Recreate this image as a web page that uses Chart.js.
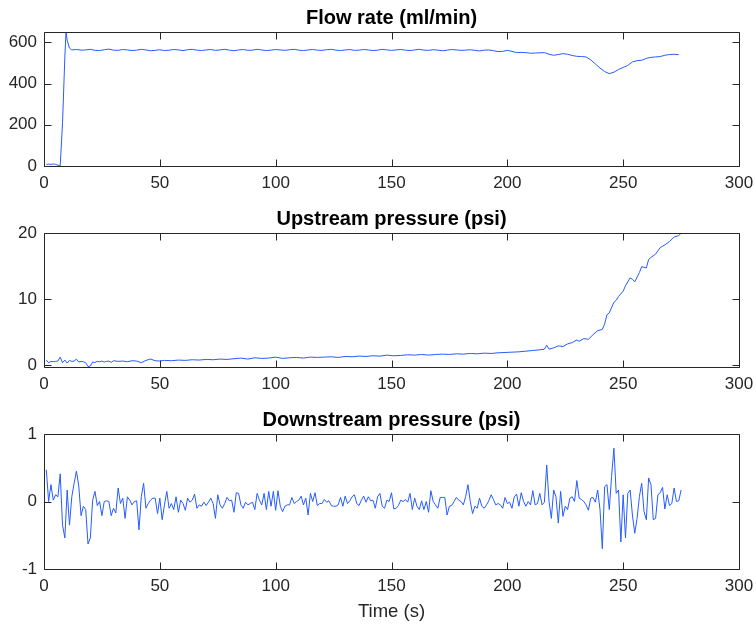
<!DOCTYPE html>
<html>
<head>
<meta charset="utf-8">
<script src="https://cdn.jsdelivr.net/npm/chart.js@4"></script>
<style>
html, body { margin: 0; padding: 0; background: #fff; }
#wrap { position: relative; width: 756px; height: 626px; }
canvas { position: absolute; left: 0; }
</style>
</head>
<body>
<div id="wrap">
<canvas id="chart-flow" width="756" height="201" style="top:0px"></canvas>
<canvas id="chart-up" width="756" height="201" style="top:201px"></canvas>
<canvas id="chart-down" width="756" height="224" style="top:402px"></canvas>
</div>
<script>
// ---------- data ----------
const xTicks = [0, 50, 100, 150, 200, 250, 300];
const flowTicks = [0, 200, 400, 600];
const upTicks = [0, 10, 20];
const downTicks = [-1, 0, 1];

const flowTime = [
  1, 2, 3, 4, 5, 6, 7, 8, 9,
  9.5, 10, 11, 12, 14, 16, 18, 20, 22, 24,
  26, 28, 30, 32, 34, 36, 38, 40, 42, 44,
  46, 48, 50, 52, 54, 56, 58, 60, 62, 64,
  66, 68, 70, 72, 74, 76, 78, 80, 82, 84,
  86, 88, 90, 92, 94, 96, 98, 100, 102, 104,
  106, 108, 110, 112, 114, 116, 118, 120, 122, 124,
  126, 128, 130, 132, 134, 136, 138, 140, 142, 144,
  146, 148, 150, 152, 154, 156, 158, 160, 162, 164,
  166, 168, 170, 172, 174, 176, 178, 180, 182, 184,
  186, 188, 190, 192, 194, 196, 198, 200, 202, 204,
  206, 208, 210, 212, 214, 216, 218, 220, 222, 224,
  226, 228, 230, 232, 234, 236, 238, 240, 242, 244,
  246, 248, 250, 252, 254, 256, 258, 260, 262, 264,
  266, 268, 270, 272, 274
];
const flowRate = [
  8, 9, 8, 10, 8, 4, 1, 210, 529,
  650, 610, 572, 563, 565, 562, 563, 566, 561, 560,
  564, 567, 562, 561, 565, 563, 560, 562, 566, 563,
  559, 561, 564, 560, 562, 565, 563, 560, 564, 566,
  562, 560, 563, 565, 561, 563, 566, 562, 559, 563,
  565, 561, 562, 566, 563, 560, 562, 565, 563, 561,
  564, 566, 562, 560, 563, 565, 562, 561, 564, 566,
  562, 560, 563, 565, 561, 562, 565, 563, 560, 562,
  566, 563, 561, 563, 565, 562, 560, 563, 566, 562,
  561, 564, 562, 559, 562, 565, 563, 561, 562, 564,
  561, 558, 562, 563, 559, 555, 556, 561, 556, 550,
  551, 550, 547, 548, 549, 550, 542, 537, 541, 545,
  542, 536, 532, 531, 529, 515, 495, 475, 458, 448,
  455, 468, 478, 488, 505, 511, 513, 522, 527, 529,
  531, 537, 541, 542, 540
];

const upTime = [
  1, 2, 3, 4, 5, 6, 7, 8, 9,
  10, 11, 12, 13, 14, 15, 16, 17, 18, 19,
  20, 21, 22, 23, 24, 25, 26, 27, 28, 29,
  30, 32, 34, 36, 38, 40, 42, 44, 46, 48,
  50, 52, 55, 58, 61, 64, 67, 70, 73, 76,
  79, 82, 85, 88, 91, 94, 97, 100, 103, 106,
  109, 112, 115, 118, 121, 124, 127, 130, 133, 136,
  139, 142, 145, 148, 151, 154, 157, 160, 163, 166,
  169, 172, 175, 178, 181, 184, 187, 190, 193, 196,
  199, 202, 205, 208, 211, 214, 216, 217, 218, 220,
  222, 224, 226, 228, 230, 231, 233, 235, 237, 239,
  241, 242, 243, 244, 246, 247, 248, 250, 251, 253,
  254, 255, 257, 258, 260, 261, 262, 264, 266, 268,
  270, 272, 274, 275
];
const upPressure = [
  0.75, 0.35, 0.55, 0.5, 0.55, 0.6, 1.2, 0.35, 0.75,
  0.3, 0.7, 0.55, 0.6, 0.9, 0.45, 0.55, 0.5, 0.35, -0.25,
  -0.15, 0.45, 0.4, 0.55, 0.5, 0.6, 0.45, 0.55, 0.6, 0.4,
  0.65, 0.55, 0.6, 0.5, 0.65, 0.6, 0.35, 0.7, 0.9, 0.65,
  0.6, 0.7, 0.65, 0.75, 0.7, 0.8, 0.75, 0.85, 0.8, 0.9,
  0.85, 0.95, 1.05, 0.9, 1.1, 1.0, 1.05, 1.2, 1.0, 1.1,
  1.15, 1.05, 1.2, 1.15, 1.2, 1.25, 1.15, 1.3, 1.25, 1.35,
  1.3, 1.4, 1.35, 1.5, 1.4, 1.45, 1.55, 1.5, 1.6, 1.5,
  1.6, 1.65, 1.6, 1.7, 1.65, 1.75, 1.7, 1.8, 1.75, 1.85,
  1.9, 1.95, 2.0, 2.1, 2.2, 2.3, 2.4, 3.0, 2.4, 2.6,
  2.9, 2.8, 3.2, 3.4, 3.8, 3.6, 4.0, 3.9, 4.6, 5.2,
  5.4, 6.2, 7.6, 7.9, 9.5, 9.8, 10.4, 11.2, 12.0, 13.2,
  13.0, 12.6, 14.0, 14.9, 14.7, 16.0, 16.3, 16.8, 17.8, 18.2,
  18.7, 19.4, 19.6, 20.0
];

const downTime = [
  1, 2, 3, 4, 5, 6, 7, 8, 9, 10, 11, 12, 13, 14, 15, 16, 17, 18, 19, 20, 21, 22, 23, 24, 25,
  26, 27, 28, 29, 30, 31, 32, 33, 34, 35, 36, 37, 38, 39, 40, 41, 42, 43, 44, 45, 46, 47, 48, 49, 50,
  51, 52, 53, 54, 55, 56, 57, 58, 59, 60, 61, 62, 63, 64, 65, 66, 67, 68, 69, 70, 71, 72, 73, 74, 75,
  76, 77, 78, 79, 80, 81, 82, 83, 84, 85, 86, 87, 88, 89, 90, 91, 92, 93, 94, 95, 96, 97, 98, 99, 100,
  101, 102, 103, 104, 105, 106, 107, 108, 109, 110, 111, 112, 113, 114, 115, 116, 117, 118, 119, 120, 121, 122, 123, 124, 125,
  126, 127, 128, 129, 130, 131, 132, 133, 134, 135, 136, 137, 138, 139, 140, 141, 142, 143, 144, 145, 146, 147, 148, 149, 150,
  151, 152, 153, 154, 155, 156, 157, 158, 159, 160, 161, 162, 163, 164, 165, 166, 167, 168, 169, 170, 171, 172, 173, 174, 175,
  176, 177, 178, 179, 180, 181, 182, 183, 184, 185, 186, 187, 188, 189, 190, 191, 192, 193, 194, 195, 196, 197, 198, 199, 200,
  201, 202, 203, 204, 205, 206, 207, 208, 209, 210, 211, 212, 213, 214, 215, 216, 217, 218, 219, 220, 221, 222, 223, 224, 225,
  226, 227, 228, 229, 230, 231, 232, 233, 234, 235, 236, 237, 238, 239, 240, 241, 242, 243, 244, 245, 246, 247, 248, 249, 250,
  251, 252, 253, 254, 255, 256, 257, 258, 259, 260, 261, 262, 263, 264, 265, 266, 267, 268, 269, 270, 271, 272, 273, 274, 275
];
const downPressure = [
  0.47, 0.0, 0.25, 0.02, 0.1, 0.07, 0.41, -0.35, -0.54, 0.17, -0.35, 0.07, 0.27, 0.45, 0.23, -0.21, -0.07, -0.12, -0.63, -0.54, 0.02, 0.15, -0.06, 0.0, -0.21,
  0.0, 0.01, 0.0, -0.21, -0.1, -0.17, 0.2, -0.03, 0.05, -0.25, 0.07, 0.02, -0.05, 0.0, 0.01, -0.42, 0.07, 0.27, -0.1, -0.03, 0.02, 0.05, 0.05, -0.18, 0.05,
  -0.27, -0.05, 0.15, -0.1, -0.03, -0.12, 0.07, -0.16, 0.02, -0.03, -0.13, 0.05, -0.01, 0.02, 0.11, -0.1, -0.05, -0.07, -0.01, -0.06, -0.01, 0.05, -0.03, -0.25, 0.1,
  -0.05, -0.1, -0.03, 0.06, 0.01, 0.02, -0.16, 0.13, 0.12, -0.05, -0.1, -0.01, -0.05, -0.03, -0.01, -0.12, 0.12, 0.02, -0.05, 0.12, -0.12, 0.15, -0.07, 0.15, -0.13,
  0.16, -0.07, -0.15, -0.07, -0.05, -0.05, 0.06, -0.03, 0.0, 0.02, 0.08, -0.05, 0.05, -0.2, 0.12, 0.0, 0.13, -0.06, -0.03, -0.03, 0.03, -0.01, 0.01, -0.06, -0.07,
  -0.07, -0.05, 0.06, -0.07, 0.08, -0.03, 0.01, 0.07, 0.1, -0.03, -0.06, 0.02, 0.08, -0.01, 0.07, 0.01, 0.02, -0.1, 0.07, 0.12, -0.07, -0.1, 0.02, 0.0, 0.13,
  -0.11, -0.1, -0.06, 0.02, 0.0, 0.03, -0.01, 0.12, -0.12, 0.05, -0.07, -0.12, 0.01, -0.12, 0.0, -0.16, 0.16, 0.0, -0.05, -0.1, 0.06, 0.06, 0.06, -0.2, -0.07,
  -0.06, 0.0, 0.06, 0.02, 0.0, -0.05, 0.07, 0.25, 0.0, -0.18, -0.07, -0.1, 0.05, -0.07, -0.1, -0.05, 0.01, 0.1, 0.03, -0.05, -0.03, -0.05, -0.1, 0.06, -0.03,
  -0.01, -0.1, 0.07, 0.11, -0.07, 0.13, 0.0, -0.07, 0.0, -0.05, 0.16, -0.05, -0.03, 0.12, -0.05, -0.01, 0.54, 0.0, -0.25, 0.17, 0.07, -0.32, 0.15, -0.22, -0.07,
  -0.12, 0.05, 0.07, 0.0, 0.31, 0.05, 0.03, 0.0, -0.05, -0.13, 0.05, 0.06, -0.01, 0.17, -0.12, -0.7, 0.22, 0.25, -0.12, 0.37, 0.79, 0.12, 0.17, -0.6, 0.1,
  -0.54, 0.12, 0.17, -0.2, -0.47, -0.25, 0.07, 0.27, -0.15, -0.27, 0.35, 0.25, -0.27, -0.25, 0.1, 0.13, 0.21, -0.11, 0.1, -0.06, -0.03, 0.2, 0.0, 0.01, 0.17
];

// ---------- style ----------
const fontFamily = '"Liberation Sans", Arial, Helvetica, sans-serif';
const axisColor = '#262626';
const lineColor = 'rgb(38,92,255)';
const tickLen = 7;

// box round the plot area, with inward tick marks on all four sides
const boxTicks = {
  id: 'boxTicks',
  afterDatasetsDraw(chart) {
    const { ctx, chartArea: a, scales: { x, y } } = chart;
    const l = Math.round(a.left) + 0.5, r = Math.round(a.right) + 0.5;
    const t = Math.round(a.top) + 0.5, b = Math.round(a.bottom) + 0.5;
    ctx.save();
    ctx.strokeStyle = axisColor;
    ctx.lineWidth = 1;
    ctx.beginPath();
    x.ticks.forEach(tk => {
      const px = Math.round(x.getPixelForValue(tk.value)) + 0.5;
      ctx.moveTo(px, b); ctx.lineTo(px, b - tickLen);
      ctx.moveTo(px, t); ctx.lineTo(px, t + tickLen);
    });
    y.ticks.forEach(tk => {
      const py = Math.round(y.getPixelForValue(tk.value)) + 0.5;
      ctx.moveTo(l, py); ctx.lineTo(l + tickLen, py);
      ctx.moveTo(r, py); ctx.lineTo(r - tickLen, py);
    });
    ctx.rect(l, t, r - l, b - t);
    ctx.stroke();
    ctx.restore();
  }
};

// subplot title centred over the plot area (not the whole canvas)
const axesTitle = {
  id: 'axesTitle',
  afterDraw(chart, args, opts) {
    const { ctx, chartArea: a } = chart;
    ctx.save();
    ctx.fillStyle = '#000';
    ctx.font = 'bold 20px ' + fontFamily;
    ctx.textAlign = 'center';
    ctx.textBaseline = 'middle';
    ctx.fillText(opts.text, (a.left + a.right) / 2, 18);
    ctx.restore();
  }
};

function makeChart(id, title, time, values, yMin, yMax, yTicks, xHeight, xTitle) {
  const ctx = document.getElementById(id).getContext('2d');
  return new Chart(ctx, {
    type: 'line',
    data: {
      datasets: [{
        data: time.map((t, i) => ({ x: t, y: values[i] })),
        borderColor: lineColor,
        borderWidth: 1,
        pointRadius: 0,
        tension: 0,
        fill: false
      }]
    },
    options: {
      responsive: false,
      animation: false,
      devicePixelRatio: 1,
      layout: { padding: { left: 0, right: 17, top: 32, bottom: 0 } },
      plugins: {
        legend: { display: false },
        tooltip: { enabled: false },
        title: { display: false },
        axesTitle: { text: title }
      },
      scales: {
        x: {
          type: 'linear',
          min: 0,
          max: 300,
          afterBuildTicks: s => { s.ticks = xTicks.map(v => ({ value: v })); },
          afterFit: s => { s.height = xHeight; s.paddingLeft = 0; s.paddingRight = 0; },
          grid: { display: false, drawTicks: false },
          border: { display: false },
          ticks: { padding: 7, color: axisColor, maxRotation: 0, autoSkip: false, font: { family: fontFamily, size: 17 } },
          title: {
            display: !!xTitle,
            text: xTitle || '',
            color: axisColor,
            font: { family: fontFamily, size: 18.5 },
            padding: { top: 0, bottom: 3 }
          }
        },
        y: {
          type: 'linear',
          min: yMin,
          max: yMax,
          afterBuildTicks: s => { s.ticks = yTicks.map(v => ({ value: v })); },
          afterFit: s => { s.width = 44; },
          grid: { display: false, drawTicks: false },
          border: { display: false },
          ticks: { padding: 7, color: axisColor, autoSkip: false, font: { family: fontFamily, size: 17 } }
        }
      }
    },
    plugins: [boxTicks, axesTitle]
  });
}

makeChart('chart-flow', 'Flow rate (ml/min)', flowTime, flowRate, 0, 650, flowTicks, 35);
makeChart('chart-up', 'Upstream pressure (psi)', upTime, upPressure, -0.3, 20, upTicks, 35);
makeChart('chart-down', 'Downstream pressure (psi)', downTime, downPressure, -1, 1, downTicks, 57, 'Time (s)');
</script>
</body>
</html>
